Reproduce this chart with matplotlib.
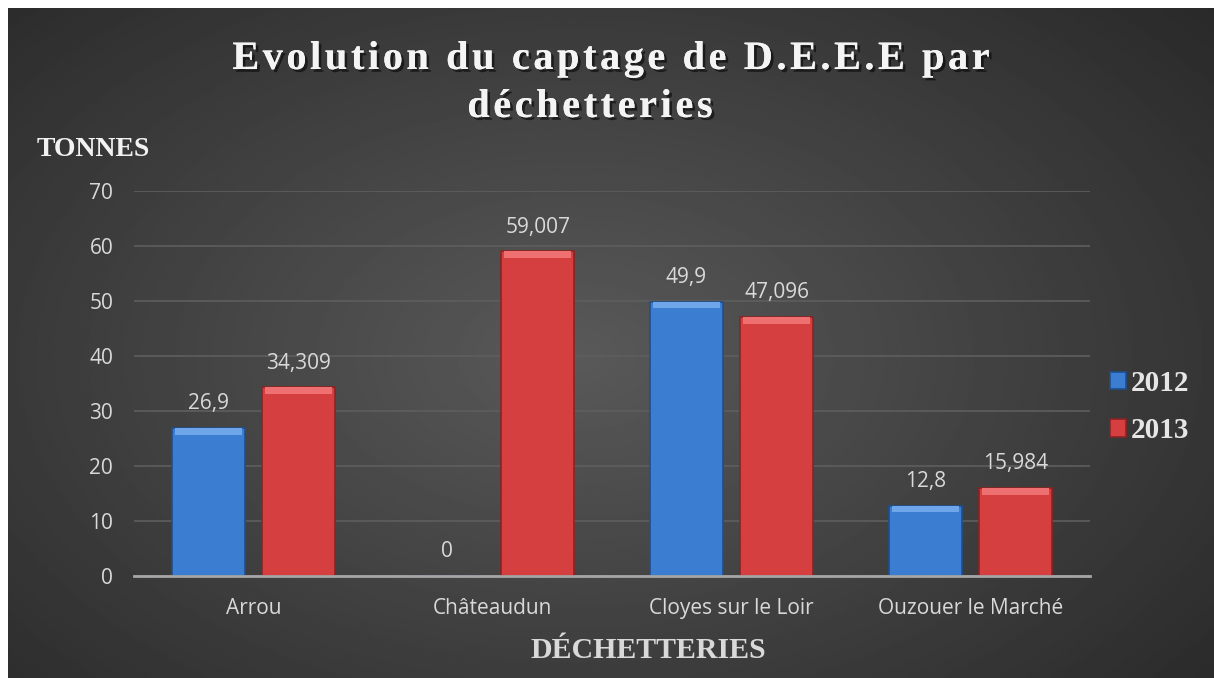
import matplotlib.pyplot as plt
import matplotlib.patheffects as pe
import numpy as np

# ============================================================
# Data
# ============================================================

sites = ["Arrou", "Châteaudun", "Cloyes sur le Loir", "Ouzouer le Marché"]
tonnes_2012 = [26.9, 0, 49.9, 12.8]
tonnes_2013 = [34.309, 59.007, 47.096, 15.984]
labels_2012 = ["26,9", "0", "49,9", "12,8"]
labels_2013 = ["34,309", "59,007", "47,096", "15,984"]
years = ["2012", "2013"]
yticks = [0, 10, 20, 30, 40, 50, 60, 70]
title_lines = ["Evolution du captage de D.E.E.E par", "déchetteries"]

W, H = 1214, 678
SERIF = "Liberation Serif"
SANS = "Open Sans"
TEXT = "#d9d9d9"

# ============================================================
# Figure and radial background
# ============================================================

fig = plt.figure(figsize=(W / 100, H / 100), dpi=100)
fig.patch.set_facecolor("white")

bg = fig.add_axes([8 / W, 0, 1 - 8 / W, 1 - 8 / H])
bg.set_axis_off()
yy, xx = np.mgrid[0:1:300j, 0:1:500j]
r = np.sqrt(((xx - 0.47) / 0.75) ** 2 + ((yy - 0.52) / 0.85) ** 2)
shade = np.clip(0.35 - 0.2 * r, 0.16, 0.35)
bg.imshow(shade, cmap="gray", vmin=0, vmax=1, aspect="auto",
          extent=[0, 1, 0, 1], interpolation="bilinear")

# ============================================================
# Bars
# ============================================================

ax = fig.add_axes([134 / W, 1 - 576 / H, (1090 - 134) / W, (576 - 191) / H])
ax.set_facecolor("none")

x = np.arange(len(sites))
w = 0.307
off = 0.189

b1 = ax.bar(x - off, tonnes_2012, w, color="#3b7dd0", edgecolor="#1f4f8f",
            linewidth=1.2, zorder=3)
b2 = ax.bar(x + off, tonnes_2013, w, color="#d63f3f", edgecolor="#8c2323",
            linewidth=1.2, zorder=3)

# bevel highlight at top of each bar
for bars, light in ((b1, "#6fa6ea"), (b2, "#ef7070")):
    for b in bars:
        h = b.get_height()
        if h <= 0:
            continue
        ax.bar(b.get_x() + b.get_width() / 2, min(1.2, h), b.get_width() * 0.92,
               bottom=h - min(1.2, h), color=light, zorder=4, linewidth=0)

for xi, v, s in zip(x - off, tonnes_2012, labels_2012):
    ax.text(xi, v + 4.4, s, ha="center", va="center", color=TEXT,
            fontsize=15, family=SANS)
for xi, v, s in zip(x + off, tonnes_2013, labels_2013):
    ax.text(xi, v + 4.4, s, ha="center", va="center", color=TEXT,
            fontsize=15, family=SANS)

ax.set_xlim(-0.5, 3.5)
ax.set_ylim(0, 70)
ax.set_yticks(yticks)
ax.set_yticklabels([str(t) for t in yticks], family=SANS, fontsize=15, color=TEXT)
ax.set_xticks(x)
ax.set_xticklabels(sites, family=SANS, fontsize=15, color=TEXT)
ax.tick_params(length=0, pad=15)
ax.tick_params(axis="x", pad=16)
ax.grid(axis="y", color="#5e5e5e", linewidth=1.2, zorder=0)
for sp in ["top", "right", "left"]:
    ax.spines[sp].set_visible(False)
ax.spines["bottom"].set_color("#a6a6a6")
ax.spines["bottom"].set_linewidth(2)
ax.spines["bottom"].set_zorder(5)

# ============================================================
# Title with letter spacing
# ============================================================

renderer = fig.canvas.get_renderer()
title_kw = dict(color="#f4f4f4", fontsize=29, fontweight="bold", family=SERIF)
shadow = [pe.withSimplePatchShadow(offset=(2, -2), shadow_rgbFace="black", alpha=0.55),
          pe.Normal()]


def text_width(s):
    t = fig.text(0, 0, s + "|", **title_kw)
    wd = t.get_window_extent(renderer).width
    t.remove()
    return wd


def tracked_text(line, xc, y_base, track):
    bar = text_width("")
    pos = [text_width(line[:i]) - bar + i * track for i in range(len(line))]
    total = text_width(line) - bar + (len(line) - 1) * track
    x0 = xc - total / 2
    for ch, p in zip(line, pos):
        if ch == " ":
            continue
        fig.text((x0 + p) / W, 1 - y_base / H, ch, ha="left", va="baseline",
                 path_effects=shadow, **title_kw)


tracked_text(title_lines[0], 611, 69, 3.6)
tracked_text(title_lines[1], 590, 117, 3.6)

# ============================================================
# Axis titles and legend
# ============================================================

fig.text(37 / W, 1 - 149 / H, "TONNES", ha="left", va="center",
         color="#f2f2f2", fontsize=20, fontweight="bold", family=SERIF)
fig.text(648 / W, 1 - 651 / H, "DÉCHETTERIES", ha="center", va="center",
         color=TEXT, fontsize=21.5, fontweight="bold", family=SERIF)

leg = fig.legend([b1, b2], years, loc="center left",
                 bbox_to_anchor=(1095 / W, 1 - 407 / H), frameon=False,
                 borderpad=0, handlelength=0.55, handleheight=0.55,
                 handletextpad=0.17, labelspacing=0.7,
                 prop={"family": SERIF, "weight": "bold", "size": 21})
for t in leg.get_texts():
    t.set_color("#e6e6e6")

plt.savefig("out.png", dpi=100, facecolor=fig.get_facecolor())
